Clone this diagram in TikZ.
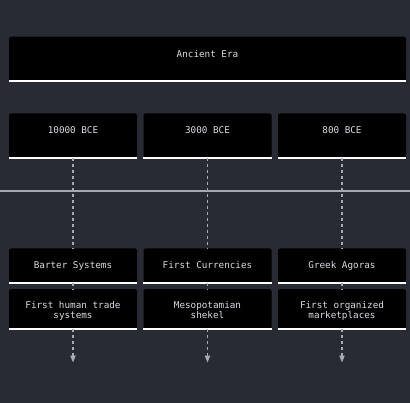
\documentclass[tikz,border=0pt]{standalone}
\usepackage{fontspec}
\setmonofont{DejaVu Sans Mono}
\usepackage{tikz}
\usetikzlibrary{arrows.meta,positioning,calc}
\definecolor{bg}{HTML}{282B34}
\definecolor{txt}{HTML}{D9DDE3}
\definecolor{axisgray}{HTML}{A4A9B3}
\definecolor{conngray}{HTML}{A6ACB6}

\begin{document}
\begin{tikzpicture}[x=1pt,y=-1pt]
  \tikzset{ box/.style={rectangle,fill=black,rounded corners=2pt,anchor=north,
      inner xsep=0pt,inner ysep=13pt,minimum width=128pt,text height=7pt,text depth=1pt,
      text=txt,font=\ttfamily\fontsize{9.3}{10}\selectfont},
    tall/.style={inner ysep=13.5pt,text depth=10pt},
    desc/.style={align=center,inner ysep=0pt,minimum height=40pt,text height=20pt,text depth=2pt},
    whiteline/.style={white,line width=2pt},
    conn/.style={conngray,line width=1.6pt,dash pattern=on 3pt off 3pt},
  }
  \useasboundingbox (0,0) rectangle (410,403);
  \fill[bg] (0,0) rectangle (410,403);
  \coordinate (axisL) at (0,191);
  \coordinate (axisR) at (410,191);
  \draw[axisgray,line width=2pt] (axisL) -- (axisR);

  \node[box,tall,minimum width=397pt] (era) at (207.5,36.5) {Ancient Era};

  \node[box,tall] (p1) at (73,113.3) {10000 BCE};
  \node[box,tall] (p2) at (207.5,113.3) {3000 BCE};
  \node[box,tall] (p3) at (342,113.3) {800 BCE};

  \node[box] (e1) at (73,248.3) {Barter Systems};
  \node[box] (e2) at (207.5,248.3) {First Currencies};
  \node[box] (e3) at (342,248.3) {Greek Agoras};

  \node[box,desc] (d1) at (73,289) {First human trade\\systems};
  \node[box,desc] (d2) at (207.5,289) {Mesopotamian\\shekel};
  \node[box,desc] (d3) at (342,289) {First organized\\marketplaces};

  \foreach \n in {era,p1,p2,p3,e1,e2,e3,d1,d2,d3}
    \draw[whiteline] (\n.south west) -- (\n.south east);

  \foreach \i in {1,2,3} {
    \coordinate (end\i) at ($(p\i.south)+(0,205)$);
    \draw[conn] (p\i.south) -- (e\i.north);
    \draw[conn] (e\i.south) -- (d\i.north);
    \draw[conn,-{Stealth[length=7pt,width=5pt,inset=0pt]}] (d\i.south) -- (end\i);
  }
\end{tikzpicture}
\end{document}
